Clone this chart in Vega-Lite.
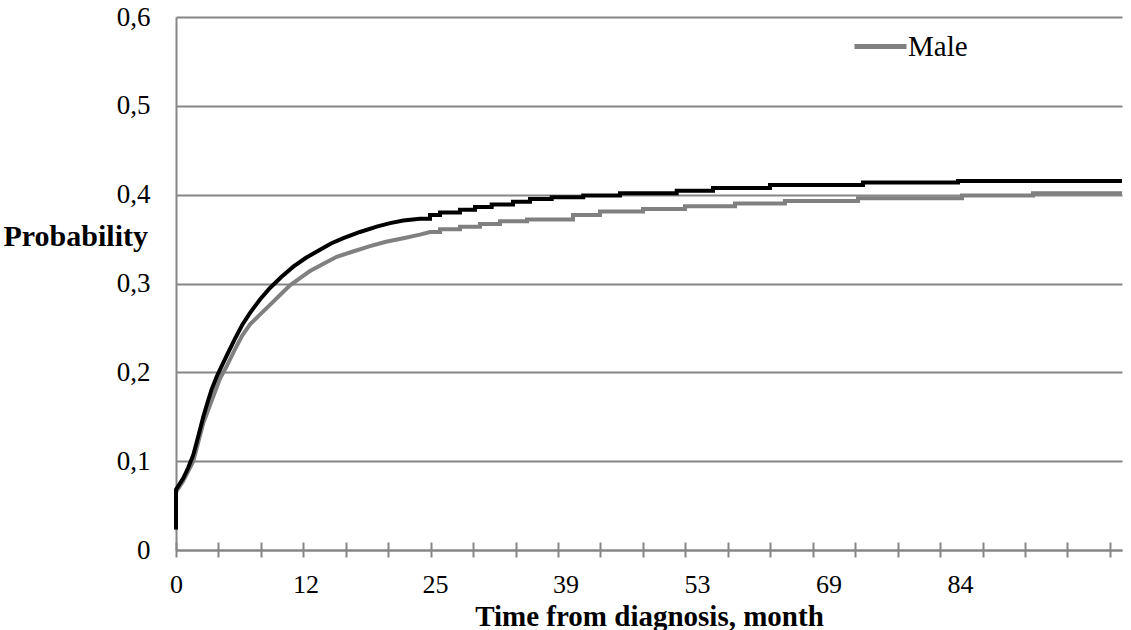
{
  "$schema": "https://vega.github.io/schema/vega-lite/v6.json",
  "width": 946,
  "height": 533,
  "autosize": {"type": "none"},
  "padding": {"left": 176, "top": 17, "right": 9, "bottom": 80},
  "background": "white",
  "config": {
    "font": "Liberation Serif",
    "view": {"stroke": null}
  },
  "datasets": {
    "male": [
      {"month": 0, "p": 0.023, "sex": "Male"},
      {"month": 0, "p": 0.065, "sex": "Male"},
      {"month": 0.68, "p": 0.078, "sex": "Male"},
      {"month": 1.6, "p": 0.1, "sex": "Male"},
      {"month": 2.53, "p": 0.143, "sex": "Male"},
      {"month": 3.46, "p": 0.173, "sex": "Male"},
      {"month": 4.08, "p": 0.193, "sex": "Male"},
      {"month": 4.7, "p": 0.207, "sex": "Male"},
      {"month": 5.47, "p": 0.226, "sex": "Male"},
      {"month": 6.12, "p": 0.241, "sex": "Male"},
      {"month": 6.86, "p": 0.254, "sex": "Male"},
      {"month": 7.78, "p": 0.265, "sex": "Male"},
      {"month": 8.71, "p": 0.276, "sex": "Male"},
      {"month": 9.64, "p": 0.287, "sex": "Male"},
      {"month": 10.56, "p": 0.298, "sex": "Male"},
      {"month": 11.49, "p": 0.306, "sex": "Male"},
      {"month": 12.45, "p": 0.314, "sex": "Male"},
      {"month": 13.76, "p": 0.322, "sex": "Male"},
      {"month": 15.13, "p": 0.33, "sex": "Male"},
      {"month": 16.77, "p": 0.336, "sex": "Male"},
      {"month": 18.48, "p": 0.342, "sex": "Male"},
      {"month": 20.08, "p": 0.347, "sex": "Male"},
      {"month": 21.82, "p": 0.351, "sex": "Male"},
      {"month": 23.49, "p": 0.355, "sex": "Male"},
      {"month": 24.5, "p": 0.358, "sex": "Male"},
      {"month": 25.54, "p": 0.358, "sex": "Male"},
      {"month": 25.54, "p": 0.361, "sex": "Male"},
      {"month": 27.68, "p": 0.361, "sex": "Male"},
      {"month": 27.68, "p": 0.364, "sex": "Male"},
      {"month": 29.83, "p": 0.364, "sex": "Male"},
      {"month": 29.83, "p": 0.367, "sex": "Male"},
      {"month": 31.97, "p": 0.367, "sex": "Male"},
      {"month": 31.97, "p": 0.37, "sex": "Male"},
      {"month": 34.87, "p": 0.37, "sex": "Male"},
      {"month": 34.87, "p": 0.372, "sex": "Male"},
      {"month": 39.8, "p": 0.372, "sex": "Male"},
      {"month": 39.8, "p": 0.377, "sex": "Male"},
      {"month": 42.67, "p": 0.377, "sex": "Male"},
      {"month": 42.67, "p": 0.381, "sex": "Male"},
      {"month": 47.25, "p": 0.381, "sex": "Male"},
      {"month": 47.25, "p": 0.384, "sex": "Male"},
      {"month": 51.72, "p": 0.384, "sex": "Male"},
      {"month": 51.72, "p": 0.387, "sex": "Male"},
      {"month": 57.62, "p": 0.387, "sex": "Male"},
      {"month": 57.62, "p": 0.39, "sex": "Male"},
      {"month": 63.7, "p": 0.39, "sex": "Male"},
      {"month": 63.7, "p": 0.393, "sex": "Male"},
      {"month": 72.37, "p": 0.393, "sex": "Male"},
      {"month": 72.37, "p": 0.396, "sex": "Male"},
      {"month": 84.23, "p": 0.396, "sex": "Male"},
      {"month": 84.23, "p": 0.399, "sex": "Male"},
      {"month": 92.34, "p": 0.399, "sex": "Male"},
      {"month": 92.34, "p": 0.4016, "sex": "Male"},
      {"month": 102.5, "p": 0.4016, "sex": "Male"}
    ],
    "female": [
      {"month": 0, "p": 0.023, "sex": "Female"},
      {"month": 0, "p": 0.068, "sex": "Female"},
      {"month": 0.68, "p": 0.081, "sex": "Female"},
      {"month": 1.11, "p": 0.092, "sex": "Female"},
      {"month": 1.6, "p": 0.107, "sex": "Female"},
      {"month": 2.04, "p": 0.127, "sex": "Female"},
      {"month": 2.53, "p": 0.15, "sex": "Female"},
      {"month": 2.92, "p": 0.166, "sex": "Female"},
      {"month": 3.31, "p": 0.181, "sex": "Female"},
      {"month": 3.77, "p": 0.195, "sex": "Female"},
      {"month": 4.23, "p": 0.207, "sex": "Female"},
      {"month": 4.82, "p": 0.222, "sex": "Female"},
      {"month": 5.47, "p": 0.238, "sex": "Female"},
      {"month": 6.12, "p": 0.253, "sex": "Female"},
      {"month": 6.86, "p": 0.267, "sex": "Female"},
      {"month": 7.78, "p": 0.282, "sex": "Female"},
      {"month": 8.71, "p": 0.295, "sex": "Female"},
      {"month": 9.73, "p": 0.307, "sex": "Female"},
      {"month": 10.87, "p": 0.319, "sex": "Female"},
      {"month": 12.05, "p": 0.329, "sex": "Female"},
      {"month": 13.46, "p": 0.338, "sex": "Female"},
      {"month": 14.56, "p": 0.345, "sex": "Female"},
      {"month": 15.8, "p": 0.351, "sex": "Female"},
      {"month": 17.47, "p": 0.358, "sex": "Female"},
      {"month": 19.15, "p": 0.364, "sex": "Female"},
      {"month": 20.49, "p": 0.368, "sex": "Female"},
      {"month": 21.82, "p": 0.371, "sex": "Female"},
      {"month": 23.49, "p": 0.373, "sex": "Female"},
      {"month": 24.5, "p": 0.373, "sex": "Female"},
      {"month": 24.5, "p": 0.377, "sex": "Female"},
      {"month": 25.54, "p": 0.377, "sex": "Female"},
      {"month": 25.54, "p": 0.38, "sex": "Female"},
      {"month": 27.68, "p": 0.38, "sex": "Female"},
      {"month": 27.68, "p": 0.383, "sex": "Female"},
      {"month": 29.29, "p": 0.383, "sex": "Female"},
      {"month": 29.29, "p": 0.386, "sex": "Female"},
      {"month": 31.08, "p": 0.386, "sex": "Female"},
      {"month": 31.08, "p": 0.389, "sex": "Female"},
      {"month": 33.37, "p": 0.389, "sex": "Female"},
      {"month": 33.37, "p": 0.392, "sex": "Female"},
      {"month": 35.19, "p": 0.392, "sex": "Female"},
      {"month": 35.19, "p": 0.395, "sex": "Female"},
      {"month": 37.52, "p": 0.395, "sex": "Female"},
      {"month": 37.52, "p": 0.397, "sex": "Female"},
      {"month": 40.89, "p": 0.397, "sex": "Female"},
      {"month": 40.89, "p": 0.399, "sex": "Female"},
      {"month": 44.8, "p": 0.399, "sex": "Female"},
      {"month": 44.8, "p": 0.4017, "sex": "Female"},
      {"month": 50.84, "p": 0.4017, "sex": "Female"},
      {"month": 50.84, "p": 0.4043, "sex": "Female"},
      {"month": 54.95, "p": 0.4043, "sex": "Female"},
      {"month": 54.95, "p": 0.4075, "sex": "Female"},
      {"month": 61.88, "p": 0.4075, "sex": "Female"},
      {"month": 61.88, "p": 0.411, "sex": "Female"},
      {"month": 72.94, "p": 0.411, "sex": "Female"},
      {"month": 72.94, "p": 0.4136, "sex": "Female"},
      {"month": 83.77, "p": 0.4136, "sex": "Female"},
      {"month": 83.77, "p": 0.4155, "sex": "Female"},
      {"month": 102.5, "p": 0.4155, "sex": "Female"}
    ]
  },
  "layer": [
    {
      "data": {"name": "male"},
      "mark": {"type": "line", "strokeWidth": 4, "interpolate": "linear"},
      "encoding": {
        "x": {
          "field": "month",
          "type": "quantitative",
          "scale": {
            "domain": [0, 12, 25, 39, 53, 69, 84, 102.5],
            "range": [0, 129.5, 259, 389.5, 521, 652.5, 784, 946],
            "zero": false,
            "nice": false
          },
          "axis": {
            "orient": "bottom",
            "values": [0, 12, 25, 39, 53, 69, 84],
            "ticks": false,
            "grid": false,
            "domain": true,
            "domainColor": "#868686",
            "domainWidth": 2,
            "labelFontSize": 26,
            "labelColor": "#000000",
            "labelPadding": 21,
            "labelFlush": false,
            "labelOverlap": false,
            "title": "Time from diagnosis, month",
            "titleFontSize": 29,
            "titleFontWeight": "bold",
            "titleColor": "#000000",
            "titleBaseline": "alphabetic",
            "titleY": 75
          }
        },
        "y": {
          "field": "p",
          "type": "quantitative",
          "scale": {"domain": [0, 0.6], "nice": false, "zero": true},
          "axis": {
            "values": [0, 0.1, 0.2, 0.3, 0.4, 0.5, 0.6],
            "labelExpr": "replace(format(datum.value, '.1~f'), '.', ',')",
            "grid": true,
            "gridColor": "#868686",
            "gridWidth": 2,
            "ticks": false,
            "domain": true,
            "domainColor": "#868686",
            "domainWidth": 2,
            "labelFontSize": 27,
            "labelColor": "#000000",
            "labelPadding": 26,
            "title": "Probability",
            "titleAngle": 0,
            "titleFontSize": 30,
            "titleFontWeight": "bold",
            "titleColor": "#000000",
            "titleAlign": "left",
            "titleBaseline": "alphabetic",
            "titleX": -173,
            "titleY": 228
          }
        },
        "color": {
          "field": "sex",
          "type": "nominal",
          "scale": {"domain": ["Male"], "range": ["#808080"]},
          "legend": {
            "orient": "none",
            "legendX": 676,
            "legendY": 1,
            "title": null,
            "padding": 0,
            "symbolType": "stroke",
            "symbolSize": 2704,
            "symbolStrokeWidth": 5,
            "labelFontSize": 29,
            "labelColor": "#000000",
            "labelOffset": -1
          }
        }
      }
    },
    {
      "data": {"name": "female"},
      "mark": {"type": "line", "strokeWidth": 4, "color": "#000000", "interpolate": "linear"},
      "encoding": {
        "x": {
          "field": "month",
          "type": "quantitative",
          "axis": {
            "orient": "bottom",
            "values": [0, 3.933, 7.867, 11.8, 16.046, 20.307, 24.569, 29.093, 33.647, 38.201, 42.726, 47.245, 51.765, 56.754, 61.918, 67.083, 72.046, 76.888, 81.73, 86.575, 91.423, 96.271, 101.119],
            "labels": false,
            "grid": false,
            "domain": false,
            "ticks": true,
            "tickSize": 15,
            "tickWidth": 2,
            "tickColor": "#868686",
            "offset": -8,
            "title": null
          }
        },
        "y": {"field": "p", "type": "quantitative"}
      }
    }
  ],
  "resolve": {"axis": {"x": "independent"}}
}
